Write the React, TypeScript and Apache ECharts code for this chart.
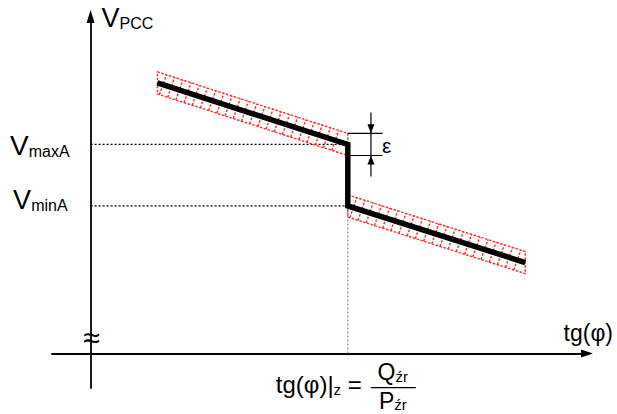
import React, { useEffect, useRef } from "react";
import * as echarts from "echarts";

// Axis ranges (arbitrary units): tg(φ) horizontally, V_PCC vertically
const xRange = [-15, 193];
const yRange = [-14, 137];

// Characteristic V_PCC = f(tg φ)
const curveX = [26, 100, 100, 169];
const curveY = [110, 85, 60, 37];

const tgZ = 100; // tg(φ)|z = Qźr / Pźr
const vMaxA = 85;
const vMinA = 60;
const epsilon = 9; // width of the tolerance band
const epsX = 109;
const epsTick = [100, 113.5];
const epsExt = 8.5;

// Texts
const yName = ["V", "PCC"];
const xName = "tg(φ)";
const vMaxLabel = ["V", "maxA"];
const vMinLabel = ["V", "minA"];
const epsLabel = "ε";
const breakMark = "≈";
const formulaLeft = ["tg(φ)|", "z", " ="];
const numerator = ["Q", "źr"];
const denominator = ["P", "źr"];

const FONT = "'Liberation Sans', Arial, Helvetica, sans-serif";
const RED = "#ff2a2a";

export default function App() {
  const ref = useRef<HTMLDivElement>(null);

  useEffect(() => {
    if (!ref.current) return;
    const chart = echarts.init(ref.current, null, { renderer: "svg" });

    const bands = [
      [curveX[0], curveY[0], curveX[1], curveY[1]],
      [curveX[2], curveY[2], curveX[3], curveY[3]],
    ];

    const option: any = {
      animation: false,
      backgroundColor: "#fff",
      grid: { left: 52, right: 30, top: 16.5, bottom: 26, containLabel: false },
      xAxis: {
        type: "value",
        min: xRange[0],
        max: xRange[1],
        axisLine: {
          show: true,
          onZero: true,
          symbol: ["none", "triangle"],
          symbolSize: [8, 12],
          lineStyle: { color: "#000", width: 1.8 },
        },
        axisTick: { show: false },
        axisLabel: { show: false },
        splitLine: { show: false },
      },
      yAxis: {
        type: "value",
        min: yRange[0],
        max: yRange[1],
        axisLine: {
          show: true,
          onZero: true,
          symbol: ["none", "triangle"],
          symbolSize: [8, 13],
          lineStyle: { color: "#000", width: 1.8 },
        },
        axisTick: { show: false },
        axisLabel: { show: false },
        splitLine: { show: false },
      },
      series: [
        {
          type: "line",
          data: [[0, vMaxA], [tgZ, vMaxA]],
          symbol: "none",
          lineStyle: { color: "#000", width: 1.2, type: [2, 2] },
          z: 1,
        },
        {
          type: "line",
          data: [[0, vMinA], [tgZ, vMinA]],
          symbol: "none",
          lineStyle: { color: "#000", width: 1.2, type: [2, 2] },
          z: 1,
        },
        {
          type: "line",
          data: [[tgZ, 0], [tgZ, vMinA]],
          symbol: "none",
          lineStyle: { color: "#8a8a8a", width: 1.2, type: [2, 2] },
          z: 1,
        },
        {
          type: "custom",
          data: bands,
          z: 2,
          renderItem: (params: any, api: any) => {
            const x0 = api.value(0), y0 = api.value(1), x1 = api.value(2), y1 = api.value(3);
            const h = epsilon / 2;
            const tl = api.coord([x0, y0 + h]);
            const tr = api.coord([x1, y1 + h]);
            const br = api.coord([x1, y1 - h]);
            const bl = api.coord([x0, y0 - h]);
            const stroke = { stroke: RED, lineWidth: 1.4, lineDash: [2.5, 1.5], fill: null };
            const children: any[] = [
              { type: "polygon", shape: { points: [tl, tr, br, bl] }, style: { ...stroke, fill: "none" } },
            ];
            const step = 8.2, slant = 7;
            for (let x = tl[0] + 2; x + slant <= tr[0] - 1; x += step) {
              const yb = bl[1] + ((br[1] - bl[1]) * (x - bl[0])) / (br[0] - bl[0]);
              const xt = x + slant;
              const yt = tl[1] + ((tr[1] - tl[1]) * (xt - tl[0])) / (tr[0] - tl[0]);
              children.push({ type: "line", shape: { x1: x, y1: yb, x2: xt, y2: yt }, style: stroke });
            }
            return { type: "group", children };
          },
        },
        {
          type: "line",
          data: curveX.map((x, i) => [x, curveY[i]]),
          symbol: "none",
          lineStyle: { color: "#000", width: 5.5, join: "miter", cap: "butt" },
          z: 3,
        },
        {
          type: "custom",
          data: [[epsX, curveY[1], epsilon]],
          z: 4,
          renderItem: (params: any, api: any) => {
            const cx = api.value(0), cy = api.value(1), e = api.value(2);
            const topY = cy + e / 2, botY = cy - e / 2;
            const t0 = api.coord([epsTick[0], topY]);
            const t1 = api.coord([epsTick[1], topY]);
            const b0 = api.coord([epsTick[0], botY]);
            const b1 = api.coord([epsTick[1], botY]);
            const vTop = api.coord([cx, topY + epsExt]);
            const vBot = api.coord([cx, botY - epsExt]);
            const tipT = api.coord([cx, topY]);
            const tipB = api.coord([cx, botY]);
            const ls = { stroke: "#000", lineWidth: 1.2 };
            return {
              type: "group",
              children: [
                { type: "line", shape: { x1: t0[0], y1: t0[1], x2: t1[0], y2: t1[1] }, style: ls },
                { type: "line", shape: { x1: b0[0], y1: b0[1], x2: b1[0], y2: b1[1] }, style: ls },
                { type: "line", shape: { x1: vTop[0], y1: vTop[1], x2: vBot[0], y2: vBot[1] }, style: ls },
                {
                  type: "polygon",
                  shape: { points: [[tipT[0], tipT[1]], [tipT[0] - 3.5, tipT[1] - 9], [tipT[0] + 3.5, tipT[1] - 9]] },
                  style: { fill: "#000" },
                },
                {
                  type: "polygon",
                  shape: { points: [[tipB[0], tipB[1]], [tipB[0] - 3.5, tipB[1] + 9], [tipB[0] + 3.5, tipB[1] + 9]] },
                  style: { fill: "#000" },
                },
              ],
            };
          },
        },
      ],
    };

    chart.setOption(option);

    const px = (x: number, y: number) =>
      chart.convertToPixel({ xAxisIndex: 0, yAxisIndex: 0 }, [x, y]) as number[];

    const origin = px(0, 0);
    const yTop = px(0, yRange[1]);
    const xEnd = px(xRange[1], 0);
    const pMax = px(0, vMaxA);
    const pMin = px(0, vMinA);
    const pZ = px(tgZ, 0);
    const pEps = px(epsX, curveY[1]);

    const subRich = (big: number, small: number) => ({
      b: { fontSize: big, fontFamily: FONT, fill: "#000" },
      s: { fontSize: small, fontFamily: FONT, fill: "#000", verticalAlign: "bottom" },
    });

    const graphic = [
      {
        type: "text",
        x: yTop[0] + 11,
        y: yTop[1] + 1,
        style: {
          text: `{b|${yName[0]}}{s|${yName[1]}}`,
          rich: subRich(27, 16),
          align: "left",
          verticalAlign: "middle",
        },
      },
      {
        type: "text",
        x: pMax[0] - 21,
        y: pMax[1] + 1,
        style: {
          text: `{b|${vMaxLabel[0]}}{s|${vMaxLabel[1]}}`,
          rich: subRich(28, 16),
          align: "right",
          verticalAlign: "middle",
        },
      },
      {
        type: "text",
        x: pMin[0] - 23,
        y: pMin[1] - 6,
        style: {
          text: `{b|${vMinLabel[0]}}{s|${vMinLabel[1]}}`,
          rich: subRich(27, 16),
          align: "right",
          verticalAlign: "middle",
        },
      },
      {
        type: "text",
        x: xEnd[0] + 26,
        y: xEnd[1] - 21,
        style: { text: xName, fontSize: 23, fontFamily: FONT, fill: "#000", align: "right", verticalAlign: "middle" },
      },
      {
        type: "text",
        x: pEps[0] + 11,
        y: pEps[1] + 1,
        style: { text: epsLabel, fontSize: 21, fontFamily: FONT, fill: "#000", align: "left", verticalAlign: "middle" },
      },
      {
        type: "text",
        x: origin[0] + 1,
        y: origin[1] - 16,
        style: { text: breakMark, fontSize: 30, fontFamily: FONT, fill: "#000", align: "center", verticalAlign: "middle" },
      },
      {
        type: "text",
        x: pZ[0] + 14,
        y: pZ[1] + 31,
        style: {
          text: `{b|${formulaLeft[0]}}{s|${formulaLeft[1]}}{b|${formulaLeft[2]}}`,
          rich: subRich(24, 15),
          align: "right",
          verticalAlign: "middle",
        },
      },
      {
        type: "text",
        x: pZ[0] + 45,
        y: pZ[1] + 18.5,
        style: {
          text: `{b|${numerator[0]}}{s|${numerator[1]}}`,
          rich: subRich(23, 15),
          align: "center",
          verticalAlign: "middle",
        },
      },
      {
        type: "line",
        shape: { x1: pZ[0] + 23, y1: pZ[1] + 34, x2: pZ[0] + 68, y2: pZ[1] + 34 },
        style: { stroke: "#000", lineWidth: 1.3 },
      },
      {
        type: "text",
        x: pZ[0] + 45,
        y: pZ[1] + 47,
        style: {
          text: `{b|${denominator[0]}}{s|${denominator[1]}}`,
          rich: subRich(23, 15),
          align: "center",
          verticalAlign: "middle",
        },
      },
    ];

    chart.setOption({ graphic });

    return () => chart.dispose();
  }, []);

  return (
    <div
      ref={ref}
      style={{ position: "fixed", left: 0, top: 0, width: 617, height: 414, background: "#fff" }}
    />
  );
}
